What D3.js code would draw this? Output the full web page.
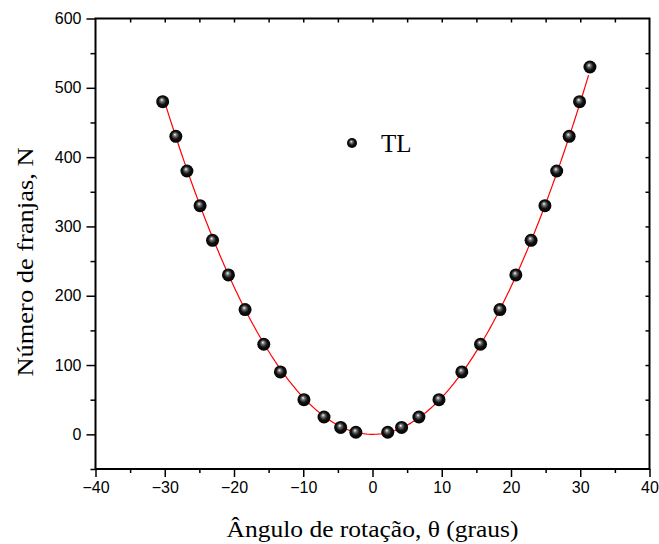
<!DOCTYPE html>
<html>
<head>
<meta charset="utf-8">
<script src="https://cdn.jsdelivr.net/npm/d3@7"></script>
<style>
  body { margin: 0; background: #fff; }
  .tick text { font-family: "Liberation Sans", Arial, sans-serif; font-size: 16px; fill: #000; }
  .title { font-family: "Liberation Serif", "Times New Roman", serif; font-size: 24px; fill: #000; }
</style>
</head>
<body>
<div id="chart"></div>
<script>
// angle (degrees) and fringe count
var angles = [-30.3, -28.4, -26.8, -24.9, -23.1, -20.8, -18.4, -15.7, -13.3, -9.9, -7.0, -4.6, -2.4,
              2.2, 4.2, 6.7, 9.6, 12.9, 15.6, 18.4, 20.7, 22.9, 24.9, 26.6, 28.4, 29.9, 31.4];
var fringes = [480, 430, 380, 330, 280, 230, 180, 130, 90, 50, 25, 10, 3,
               3, 10, 25, 50, 90, 130, 180, 230, 280, 330, 380, 430, 480, 530];
var xTicks = [-40, -30, -20, -10, 0, 10, 20, 30, 40];
var yTicks = [0, 100, 200, 300, 400, 500, 600];
var seriesName = "TL";

var W = 659, H = 544;
var margin = {top: 18.5, right: 9.5, bottom: 75, left: 95.5};

var svg = d3.select("#chart").append("svg")
  .attr("width", W)
  .attr("height", H);

var defs = svg.append("defs");
var grad = defs.append("radialGradient")
  .attr("id", "ball")
  .attr("cx", "50%").attr("cy", "50%").attr("r", "55%")
  .attr("fx", "42%").attr("fy", "35%");
grad.append("stop").attr("offset", "0%").attr("stop-color", "#fff");
grad.append("stop").attr("offset", "22%").attr("stop-color", "#777");
grad.append("stop").attr("offset", "55%").attr("stop-color", "#111");
grad.append("stop").attr("offset", "100%").attr("stop-color", "#000");

var x = d3.scaleLinear().domain([-40, 40]).range([margin.left, W - margin.right]);
var y = d3.scaleLinear().domain([-50, 600]).range([H - margin.bottom, margin.top]);

var x0 = x.range()[0], x1 = x.range()[1], y0 = y.range()[0], y1 = y.range()[1];

// bottom axis
svg.append("g")
  .attr("transform", "translate(0," + y0 + ")")
  .call(d3.axisBottom(x).tickValues(xTicks).tickSize(8).tickPadding(5).tickFormat(d3.format("d")))
  .call(function(g) { g.select(".domain").remove(); });
svg.append("g")
  .attr("transform", "translate(0," + y0 + ")")
  .call(d3.axisBottom(x).tickValues(d3.range(-35, 40, 10)).tickSize(4).tickFormat(""))
  .call(function(g) { g.select(".domain").remove(); });

// left axis
svg.append("g")
  .attr("transform", "translate(" + x0 + ",0)")
  .call(d3.axisLeft(y).tickValues(yTicks).tickSize(9).tickPadding(5).tickFormat(d3.format("d")))
  .call(function(g) { g.select(".domain").remove(); });
svg.append("g")
  .attr("transform", "translate(" + x0 + ",0)")
  .call(d3.axisLeft(y).tickValues(d3.range(-50, 600, 100)).tickSize(5).tickFormat(""))
  .call(function(g) { g.select(".domain").remove(); });

// top and right: inward ticks only
svg.append("g")
  .attr("transform", "translate(0," + y1 + ")")
  .call(d3.axisBottom(x).tickValues(d3.range(-35, 40, 5)).tickSize(4).tickFormat(""))
  .call(function(g) { g.select(".domain").remove(); });
svg.append("g")
  .attr("transform", "translate(" + x1 + ",0)")
  .call(d3.axisLeft(y).tickValues(d3.range(0, 600, 50)).tickSize(4).tickFormat(""))
  .call(function(g) { g.select(".domain").remove(); });

svg.selectAll(".tick line").attr("stroke", "#000").attr("stroke-width", 1.5);

// frame
svg.append("rect")
  .attr("x", x0).attr("y", y1)
  .attr("width", x1 - x0).attr("height", y0 - y1)
  .attr("fill", "none").attr("stroke", "#000").attr("stroke-width", 2);

// least-squares fit N = a * theta^2
var num = d3.sum(angles, function(t, i) { return t * t * fringes[i]; });
var den = d3.sum(angles, function(t) { return Math.pow(t, 4); });
var a = num / den;
var fitX = d3.range(d3.min(angles), d3.max(angles) + 0.001, 0.25);
var line = d3.line()
  .x(function(t) { return x(t); })
  .y(function(t) { return y(a * t * t); });
svg.append("path")
  .datum(fitX)
  .attr("d", line)
  .attr("fill", "none")
  .attr("stroke", "#ff0000")
  .attr("stroke-width", 1.2);

// points
svg.selectAll(".pt")
  .data(angles)
  .enter().append("circle")
  .attr("class", "pt")
  .attr("cx", function(d) { return x(d); })
  .attr("cy", function(d, i) { return y(fringes[i]); })
  .attr("r", 6.5)
  .attr("fill", "url(#ball)");

// legend
svg.append("circle")
  .attr("cx", 352).attr("cy", 143).attr("r", 5)
  .attr("fill", "url(#ball)");
svg.append("text")
  .attr("class", "title")
  .attr("x", 381).attr("y", 152)
  .style("font-size", "25px")
  .text(seriesName);

// axis titles
svg.append("text")
  .attr("class", "title")
  .attr("x", (x0 + x1) / 2).attr("y", 537)
  .attr("text-anchor", "middle")
  .attr("textLength", 292)
  .attr("lengthAdjust", "spacingAndGlyphs")
  .text("Ângulo de rotação, θ (graus)");
svg.append("text")
  .attr("class", "title")
  .attr("transform", "translate(33,262) rotate(-90)")
  .attr("text-anchor", "middle")
  .attr("textLength", 229)
  .attr("lengthAdjust", "spacingAndGlyphs")
  .text("Número de franjas, N");
</script>
</body>
</html>
